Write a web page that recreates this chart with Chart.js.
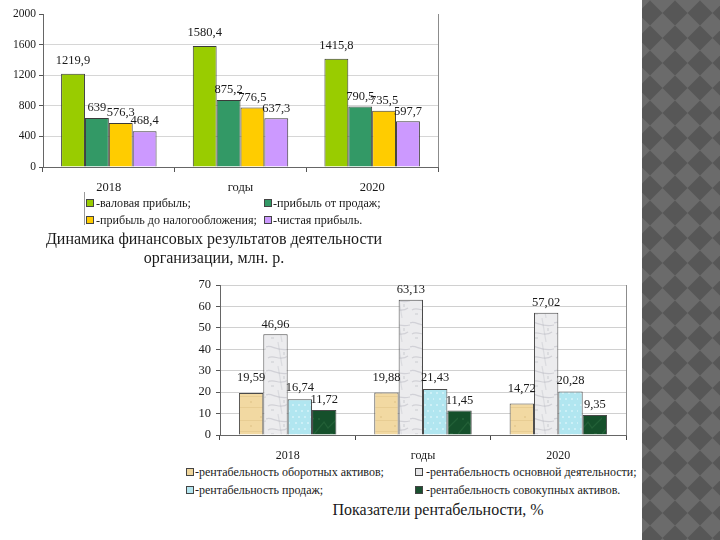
<!DOCTYPE html>
<html><head><meta charset="utf-8">
<script src="https://cdn.jsdelivr.net/npm/chart.js@4.4.1/dist/chart.umd.min.js"></script>
<style>
body{margin:0;width:720px;height:540px;background:#fff;position:relative;overflow:hidden;font-family:'Liberation Serif','Times New Roman',serif;color:#1a1a1a}
.abs{position:absolute}
.leg{position:absolute;white-space:nowrap;line-height:14px}
.mk{position:absolute;width:6px;height:6px;border:1px solid #444}
.title{position:absolute;font-size:16px;text-align:center;white-space:nowrap;line-height:19px}
</style></head><body>
<canvas id="c1" class="abs" style="left:0;top:0" width="445" height="195"></canvas>
<canvas id="c2" class="abs" style="top:270px;left:170px" width="465" height="193"></canvas>
<canvas id="strip" class="abs" style="left:642px;top:0" width="78" height="540"></canvas>
<div id="leg1"></div>
<div id="leg2"></div>
<div class="title" style="left:0;width:428px;top:229px">Динамика финансовых результатов деятельности<br>организации, млн. р.</div>
<div class="title" style="left:238px;width:400px;top:500px">Показатели рентабельности, %</div>
<script>
// ---------- data ----------
const years = ['2018', 'годы', '2020'];
const finSeries = ['-валовая прибыль;', '-прибыль от продаж;', '-прибыль до налогообложения;', '-чистая прибыль.'];
const grossProfit = [1219.9, 1580.4, 1415.8];
const salesProfit = [639, 875.2, 790.5];
const pretaxProfit = [576.3, 776.5, 735.5];
const netProfit = [468.4, 637.3, 597.7];
const finTicks = [0, 400, 800, 1200, 1600, 2000];

const rentSeries = ['-рентабельность оборотных активов;', '-рентабельность основной деятельности;', '-рентабельность продаж;', '-рентабельность совокупных активов.'];
const rentCurrentAssets = [19.59, 19.88, 14.72];
const rentCore = [46.96, 63.13, 57.02];
const rentSales = [16.74, 21.43, 20.28];
const rentTotalAssets = [11.72, 11.45, 9.35];
const rentTicks = [0, 10, 20, 30, 40, 50, 60, 70];

// ---------- styles ----------
const SERIF = "'Liberation Serif','Times New Roman',serif";
const finColors = ['#99cc00', '#339966', '#ffcc00', '#cc99ff'];

function makeTexture(base, fg, kind) {
  const c = document.createElement('canvas');
  c.width = 24; c.height = 24;
  const g = c.getContext('2d');
  g.fillStyle = base; g.fillRect(0, 0, 24, 24);
  g.strokeStyle = fg; g.fillStyle = fg;
  if (kind === 'marble') {
    g.lineWidth = 1.2; g.globalAlpha = 0.4;
    g.beginPath(); g.moveTo(0, 5); g.bezierCurveTo(6, 2, 10, 10, 24, 7); g.stroke();
    g.beginPath(); g.moveTo(2, 16); g.bezierCurveTo(8, 12, 14, 20, 22, 14); g.stroke();
    g.globalAlpha = 0.25;
    g.beginPath(); g.moveTo(12, 0); g.lineTo(16, 24); g.stroke();
    g.fillRect(5, 19, 3, 2); g.fillRect(17, 10, 2, 3);
  } else if (kind === 'paper') {
    g.globalAlpha = 0.3; g.lineWidth = 1;
    g.beginPath(); g.moveTo(0, 6.5); g.lineTo(24, 6.5); g.stroke();
    g.beginPath(); g.moveTo(0, 17.5); g.lineTo(24, 17.5); g.stroke();
    g.fillRect(8, 11, 2, 2); g.fillRect(18, 2, 2, 2);
  } else if (kind === 'dots') {
    g.globalAlpha = 0.6;
    for (let y = 2; y < 24; y += 6) for (let x = (y % 12 === 2 ? 2 : 5); x < 24; x += 6) g.fillRect(x, y, 2, 2);
  } else {
    g.globalAlpha = 0.35; g.lineWidth = 1.3;
    g.beginPath(); g.moveTo(0, 20); g.lineTo(10, 8); g.lineTo(14, 14); g.lineTo(24, 4); g.stroke();
    g.fillRect(4, 4, 2, 2); g.fillRect(16, 19, 3, 2);
  }
  return g.createPattern(c, 'repeat');
}
const rentFills = [
  makeTexture('#f2d9a2', '#d2b272', 'paper'),
  makeTexture('#ececee', '#a9abb3', 'marble'),
  makeTexture('#b1e6f0', '#dff7fb', 'dots'),
  makeTexture('#15502b', '#3c7d4c', 'green')
];
const rentLegendColors = ['#f0d69c', '#e6e6e8', '#b4e6f0', '#1a5030'];

const fmt = v => String(v).replace('.', ',');

const valueLabels = {
  id: 'valueLabels',
  afterDatasetsDraw(chart, args, opts) {
    const ctx = chart.ctx;
    ctx.save();
    ctx.font = opts.font;
    ctx.fillStyle = '#1a1a1a';
    ctx.textAlign = 'center';
    ctx.textBaseline = 'middle';
    chart.data.datasets.forEach((ds, i) => {
      chart.getDatasetMeta(i).data.forEach((bar, j) => {
        ctx.fillText(fmt(ds.data[j]), bar.x, bar.y - opts.offsets[i]);
      });
    });
    ctx.restore();
  }
};
const frame = {
  id: 'frame',
  afterDraw(chart, args, opts) {
    const a = chart.chartArea, ctx = chart.ctx;
    ctx.save();
    ctx.strokeStyle = opts.color;
    ctx.lineWidth = 1;
    ctx.beginPath();
    ctx.moveTo(Math.round(a.right) + 0.5, a.top);
    ctx.lineTo(Math.round(a.right) + 0.5, a.bottom);
    ctx.stroke();
    ctx.restore();
  }
};

// ---------- chart 1 ----------
new Chart(document.getElementById('c1'), {
  type: 'bar',
  data: {
    labels: years,
    datasets: [grossProfit, salesProfit, pretaxProfit, netProfit].map((d, i) => ({
      label: finSeries[i], data: d, backgroundColor: finColors[i],
      borderColor: '#3a3a3a', borderWidth: 1, borderSkipped: 'bottom',
      barPercentage: 1, categoryPercentage: 0.725
    }))
  },
  options: {
    responsive: false, animation: false, devicePixelRatio: 1,
    layout: { padding: { top: 14, right: 7, left: 1, bottom: 0 } },
    plugins: {
      legend: { display: false }, tooltip: { enabled: false },
      valueLabels: { font: '12.5px ' + SERIF, offsets: [13, 10, 10, 10] },
      frame: { color: '#8c8c8c' }
    },
    scales: {
      x: {
        grid: { offset: true, drawOnChartArea: false, tickLength: 5, color: '#555' },
        border: { color: '#666' },
        ticks: { font: { family: SERIF, size: 12.5 }, color: '#1a1a1a', padding: 8 },
        afterFit(s) { s.height = 28; }
      },
      y: {
        min: 0, max: 2000,
        afterBuildTicks(s) { s.ticks = finTicks.map(v => ({ value: v })); },
        ticks: { font: { family: SERIF, size: 11.5 }, color: '#1a1a1a', padding: 3, callback: v => String(v) },
        grid: { color: c => (c.tick && c.tick.value === 2000) ? 'rgba(0,0,0,0)' : '#d6d6d6', tickColor: '#555', tickLength: 4 },
        border: { color: '#666' },
        afterFit(s) { s.width = 42; }
      }
    }
  },
  plugins: [valueLabels, frame]
});

// ---------- chart 2 ----------
new Chart(document.getElementById('c2'), {
  type: 'bar',
  data: {
    labels: years,
    datasets: [rentCurrentAssets, rentCore, rentSales, rentTotalAssets].map((d, i) => ({
      label: rentSeries[i], data: d, backgroundColor: rentFills[i],
      borderColor: '#4a4a4a', borderWidth: 1, borderSkipped: 'bottom',
      barPercentage: 1, categoryPercentage: 0.72
    }))
  },
  options: {
    responsive: false, animation: false, devicePixelRatio: 1,
    layout: { padding: { top: 15, right: 9, left: 10, bottom: 0 } },
    plugins: {
      legend: { display: false }, tooltip: { enabled: false },
      valueLabels: { font: '12.5px ' + SERIF, offsets: [15, 10, 11, 10] },
      frame: { color: '#8c8c8c' }
    },
    scales: {
      x: {
        grid: { offset: true, drawOnChartArea: false, tickLength: 5, color: '#444' },
        border: { color: '#666' },
        ticks: { font: { family: SERIF, size: 12 }, color: '#1a1a1a', padding: 9 },
        afterFit(s) { s.height = 28; }
      },
      y: {
        min: 0, max: 70,
        afterBuildTicks(s) { s.ticks = rentTicks.map(v => ({ value: v })); },
        ticks: { font: { family: SERIF, size: 12.5 }, color: '#1a1a1a', padding: 5, callback: v => String(v) },
        grid: { color: '#d0d0d0', tickColor: '#555', tickLength: 4 },
        border: { color: '#666' },
        afterFit(s) { s.width = 40; }
      }
    }
  },
  plugins: [valueLabels, frame]
});

// ---------- HTML legends ----------
function buildLegend(el, names, colors, pos, size) {
  names.forEach((n, i) => {
    const p = pos[i];
    const m = document.createElement('div');
    m.className = 'mk';
    m.style.left = p.mx + 'px'; m.style.top = (p.y - 4) + 'px'; m.style.background = colors[i];
    const t = document.createElement('div');
    t.className = 'leg';
    t.style.fontSize = size + 'px';
    t.style.left = p.tx + 'px'; t.style.top = (p.y - 7) + 'px';
    t.textContent = n;
    el.appendChild(m); el.appendChild(t);
  });
}
buildLegend(document.getElementById('leg1'), finSeries, finColors, [
  { mx: 86, tx: 96, y: 203 }, { mx: 264, tx: 273, y: 203 },
  { mx: 86, tx: 96, y: 220 }, { mx: 264, tx: 273, y: 220 }
], 12.1);
const l1 = document.createElement('div');
l1.className = 'abs';
l1.style.cssText = 'left:84px;top:192px;width:0;height:33px;border-left:1px solid #9a9a9a';
document.getElementById('leg1').appendChild(l1);
buildLegend(document.getElementById('leg2'), rentSeries, rentLegendColors, [
  { mx: 186, tx: 195, y: 472 }, { mx: 415, tx: 426, y: 472 },
  { mx: 186, tx: 195, y: 490 }, { mx: 415, tx: 426, y: 490 }
], 12);

// ---------- decorative strip ----------
(function () {
  const g = document.getElementById('strip').getContext('2d');
  g.fillStyle = '#6b6b6b';
  g.fillRect(0, 0, 78, 540);
  g.fillStyle = '#575757';
  const D = 25, h = D / 2;
  for (let m = -1; m < 24; m++) {
    const cy = 13 + m * D;
    for (let k = -1; k < 5; k++) {
      const cx = 8 + k * D;
      g.beginPath();
      g.moveTo(cx, cy - h); g.lineTo(cx + h, cy); g.lineTo(cx, cy + h); g.lineTo(cx - h, cy);
      g.closePath(); g.fill();
    }
  }
})();
</script>
</body></html>
